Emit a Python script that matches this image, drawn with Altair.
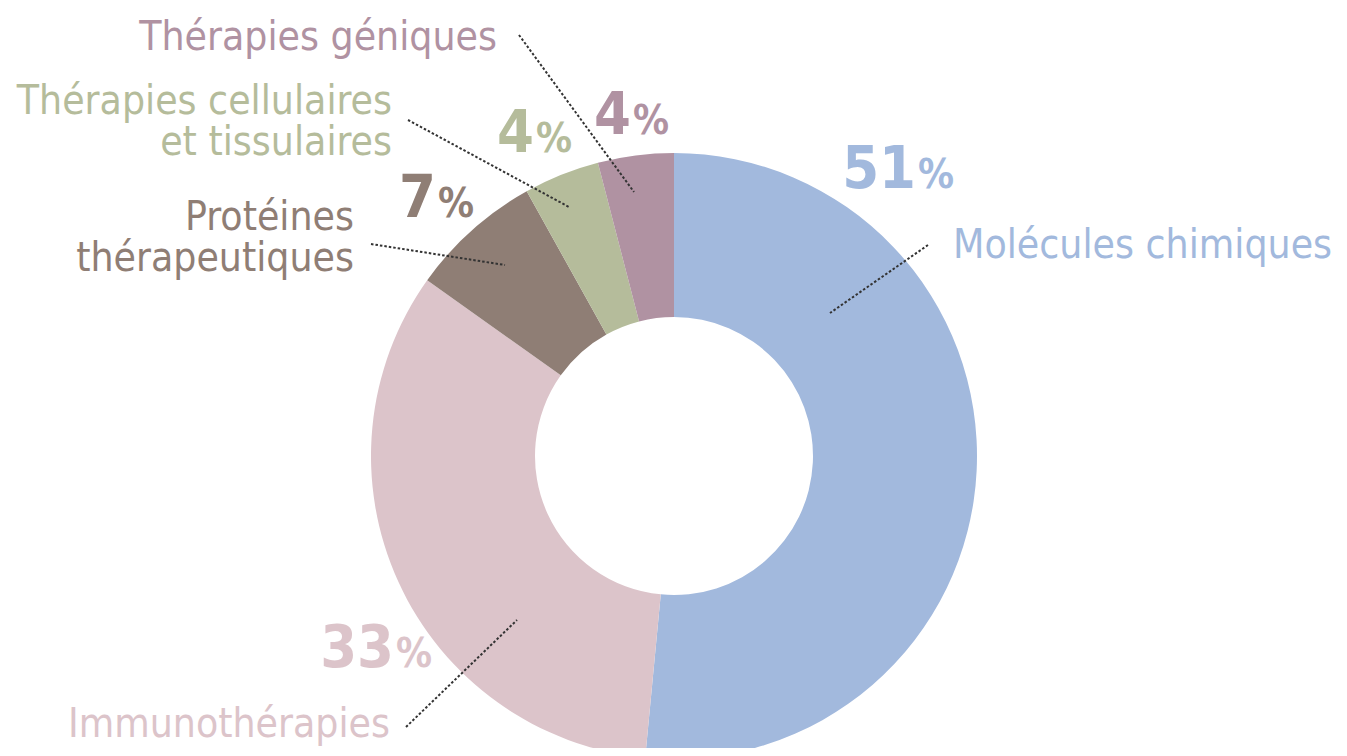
import altair as alt
import pandas as pd

# ---- data ----
categories = ["Molécules chimiques", "Immunothérapies", "Protéines thérapeutiques",
              "Thérapies cellulaires et tissulaires", "Thérapies géniques"]
shares = [51, 33, 7, 4, 4]
pct_labels = ["51", "33", "7", "4", "4"]
colors = ["#a2b9dd", "#dcc4ca", "#8f7e75", "#b5bc9b", "#b092a2"]
name_lines = [["Molécules chimiques"], ["Immunothérapies"], ["Protéines", "thérapeutiques"],
              ["Thérapies cellulaires", "et tissulaires"], ["Thérapies géniques"]]

# ---- layout (page pixels; page margin 8px) ----
OFF = 8
W, H = 1331, 740
CX, CY = 674 - OFF, 456 - OFF
R_OUT, R_IN = 303, 139
FONT = "DejaVu Sans Condensed"

pct_pos = [(916, 188), (394, 667), (436, 217), (534, 152), (631, 134)]
name_pos = [(953, 258, "left"), (68, 737, "left"), (354, 230, "right"),
            (392, 114, "right"), (497, 50, "right")]
line_gap = 41
leader = [((928, 245), (830, 313)), ((406, 727), (517, 620)), ((371, 244), (505, 265)),
          ((408, 120), (569, 207)), ((519, 35), (634, 192))]

df = pd.DataFrame({"cat": categories, "share": shares, "order": list(range(len(shares)))})

donut = alt.Chart(df).mark_arc(outerRadius=R_OUT, innerRadius=R_IN).encode(
    theta=alt.Theta("share:Q", stack=True),
    order=alt.Order("order:Q"),
    color=alt.Color("cat:N", scale=alt.Scale(domain=categories, range=colors), legend=None),
    x=alt.value(CX), y=alt.value(CY),
)

num_rows, pc_rows, name_rows, rule_rows = [], [], [], []
for i, c in enumerate(categories):
    px, py = pct_pos[i]
    num_rows.append({"x": px - OFF, "y": py - OFF, "t": pct_labels[i], "c": colors[i]})
    pc_rows.append({"x": px - OFF + 2, "y": py - OFF, "t": "%", "c": colors[i]})
    nx, ny, al = name_pos[i]
    for j, ln in enumerate(name_lines[i]):
        name_rows.append({"x": nx - OFF, "y": ny - OFF + j * line_gap, "t": ln, "c": colors[i], "a": al})
    (x1, y1), (x2, y2) = leader[i]
    rule_rows.append({"x": x1 - OFF, "y": y1 - OFF, "x2": x2 - OFF, "y2": y2 - OFF})

def text_layer(rows, size, align, weight="normal"):
    return alt.Chart(pd.DataFrame(rows)).mark_text(
        font=FONT, fontSize=size, fontWeight=weight, align=align, baseline="alphabetic"
    ).encode(x=alt.X("x:Q", scale=None, axis=None), y=alt.Y("y:Q", scale=None, axis=None),
             text="t:N", color=alt.Color("c:N", scale=None))

nums = text_layer(num_rows, 59, "right", "bold")
pcs = text_layer(pc_rows, 40, "left", "bold")
names_left = text_layer([r for r in name_rows if r["a"] == "left"], 40.5, "left")
names_right = text_layer([r for r in name_rows if r["a"] == "right"], 40.5, "right")

rules = alt.Chart(pd.DataFrame(rule_rows)).mark_rule(
    color="#333333", strokeWidth=2, strokeDash=[2.5, 2]
).encode(x=alt.X("x:Q", scale=None, axis=None), y=alt.Y("y:Q", scale=None, axis=None),
         x2="x2:Q", y2="y2:Q")

chart = alt.layer(donut, rules, nums, pcs, names_left, names_right).properties(
    width=W, height=H, autosize=alt.AutoSizeParams(type="none"), padding=0,
    view=alt.ViewBackground(strokeWidth=0, strokeOpacity=0),
).configure_view(strokeWidth=0, strokeOpacity=0).configure(background="white")

chart.save("out.html", embed_options={"renderer": "svg", "actions": False})
